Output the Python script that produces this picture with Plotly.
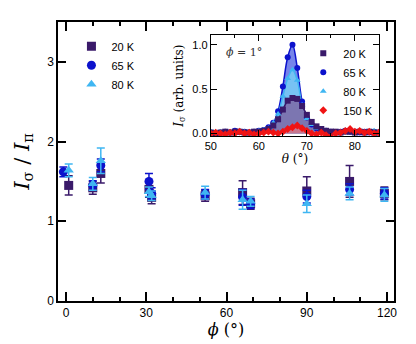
import plotly.graph_objects as go

# ── main panel: I_sigma / I_pi vs phi ─────────────────────────────────
PHI_20K = [1, 10, 13, 31, 32, 52, 66, 69, 90, 106, 119]
VAL_20K = [1.45, 1.42, 1.60, 1.40, 1.30, 1.32, 1.36, 1.22, 1.38, 1.50, 1.35]
ERR_20K = [0.12, 0.08, 0.12, 0.10, 0.08, 0.07, 0.15, 0.07, 0.18, 0.20, 0.08]

PHI_65K = [-1, 10, 13, 31, 32, 52, 66, 69, 90, 106, 119]
VAL_65K = [1.62, 1.45, 1.70, 1.50, 1.35, 1.34, 1.30, 1.22, 1.31, 1.40, 1.35]
ERR_65K = [0.06, 0.06, 0.08, 0.10, 0.07, 0.06, 0.10, 0.06, 0.08, 0.07, 0.07]

PHI_80K = [1, 10, 13, 31, 32, 52, 66, 69, 90, 106, 119]
VAL_80K = [1.64, 1.47, 1.76, 1.37, 1.32, 1.36, 1.27, 1.25, 1.22, 1.35, 1.33]
ERR_80K = [0.08, 0.08, 0.16, 0.06, 0.06, 0.08, 0.12, 0.06, 0.11, 0.08, 0.08]

# ── inset: theta scans at phi = 1 deg ─────────────────────────────────
THETA = list(range(50, 86))
SCAN_20K = [0.01, 0.00, 0.01, 0.02, 0.01, 0.02, 0.02, 0.01, 0.01, 0.02, 0.02, 0.03,
            0.05, 0.09, 0.16, 0.27, 0.37, 0.40, 0.39, 0.31, 0.21, 0.13, 0.08, 0.05,
            0.03, 0.02, 0.02, 0.01, 0.02, 0.02, 0.01, 0.02, 0.01, 0.02, 0.01, 0.01]
SCAN_65K = [0.01, 0.00, 0.01, 0.02, 0.01, 0.03, 0.02, 0.02, 0.01, 0.02, 0.03, 0.04,
            0.07, 0.12, 0.25, 0.53, 0.86, 1.00, 0.74, 0.36, 0.18, 0.10, 0.06, 0.04,
            0.03, 0.02, 0.01, 0.02, 0.03, 0.02, 0.02, 0.01, 0.02, 0.01, 0.02, 0.01]
SCAN_80K = [0.02, 0.01, 0.02, 0.02, 0.01, 0.02, 0.03, 0.02, 0.01, 0.02, 0.03, 0.04,
            0.06, 0.12, 0.22, 0.42, 0.62, 0.72, 0.60, 0.32, 0.17, 0.10, 0.06, 0.04,
            0.03, 0.02, 0.02, 0.02, 0.02, 0.03, 0.02, 0.02, 0.02, 0.02, 0.03, 0.02]
SCAN_150K = [0.00, 0.01, 0.00, -0.01, 0.01, 0.00, 0.02, 0.00, 0.01, -0.01, 0.00, 0.01,
             0.02, 0.01, 0.00, 0.02, 0.05, 0.07, 0.09, 0.06, 0.03, 0.00, -0.01, 0.01,
             -0.02, -0.04, 0.00, 0.01, 0.03, 0.05, 0.02, 0.03, 0.01, 0.02, 0.00, 0.01]
ERR_150K = 0.03

C20, C65, C80, C150 = "#3a1a6a", "#0c12cc", "#3fb6f2", "#f01414"
SANS = "Liberation Sans, Arial, sans-serif"
SERIF = "DejaVu Serif, Liberation Serif, serif"

fig = go.Figure()

for name, phi, val, err, col, sym in [
    ("20 K", PHI_20K, VAL_20K, ERR_20K, C20, "square"),
    ("65 K", PHI_65K, VAL_65K, ERR_65K, C65, "circle"),
    ("80 K", PHI_80K, VAL_80K, ERR_80K, C80, "triangle-up"),
]:
    fig.add_trace(go.Scatter(
        x=phi, y=val, mode="markers", name=name,
        marker=dict(symbol=sym, size=9, color=col),
        error_y=dict(type="data", array=err, color=col, thickness=1.5, width=4),
        legend="legend", xaxis="x", yaxis="y", legendrank=len(fig.data),
    ))

# inset: filled curves first (back to front), then markers on top
inset = [
    ("65 K", SCAN_65K, C65, "rgba(60,80,225,0.7)", "circle", 2),
    ("80 K", SCAN_80K, C80, "rgba(120,205,245,0.85)", "triangle-up", 3),
    ("20 K", SCAN_20K, C20, "rgba(125,105,165,0.85)", "square", 1),
    ("150 K", SCAN_150K, C150, "rgba(250,120,120,0.6)", "diamond", 4),
]
for name, scan, col, fillc, sym, rank in inset:
    fig.add_trace(go.Scatter(
        x=THETA, y=scan, mode="lines", showlegend=False, hoverinfo="skip",
        line=dict(color=col, width=1.5 if name != "150 K" else 1, shape="spline"),
        fill="tozeroy", fillcolor=fillc, xaxis="x2", yaxis="y2",
    ))
for name, scan, col, fillc, sym, rank in inset:
    err = dict(type="constant", value=ERR_150K, color=col, thickness=1, width=0) if name == "150 K" else None
    fig.add_trace(go.Scatter(
        x=THETA, y=scan, mode="markers", name=name,
        marker=dict(symbol=sym, size=6, color=col),
        error_y=err, xaxis="x2", yaxis="y2", legend="legend2", legendrank=rank,
    ))


def axis_style(lw, fs):
    return dict(showline=True, linecolor="black", linewidth=lw, mirror="allticks",
                ticks="inside", tickcolor="black", tickwidth=lw, zeroline=False, showgrid=False,
                tickfont=dict(family=SANS, size=fs, color="black"))


fig.update_layout(
    width=416, height=344,
    margin=dict(l=50, r=30, t=14, b=51),
    paper_bgcolor="white", plot_bgcolor="white",
    xaxis=dict(**axis_style(1.5, 12), range=[-3, 122.6], tickvals=[0, 30, 60, 90, 120],
               ticklen=9,
               minor=dict(dtick=10, tick0=0, ticks="inside", ticklen=4, tickcolor="black", tickwidth=1.5),
               title=dict(text="<i>ϕ</i> (°)", font=dict(family=SERIF, size=16, color="black"), standoff=4)),
    yaxis=dict(**axis_style(1.5, 12), range=[0, 3.5], tickvals=[0, 1, 2, 3], ticklen=8,
               title=dict(text="<i>I</i><sub>σ</sub> / <i>I</i><sub>π</sub>",
                          font=dict(family=SERIF, size=21, color="black"), standoff=12)),
    xaxis2=dict(**axis_style(1.2, 11), anchor="y2", domain=[0.455, 0.955], range=[50, 85],
                tickvals=[50, 60, 70, 80], ticklen=6,
                minor=dict(dtick=5, tick0=50, ticks="inside", ticklen=3, tickcolor="black"),
                title=dict(text="<i>θ</i> (°)", font=dict(family=SERIF, size=12, color="black"), standoff=2)),
    yaxis2=dict(**axis_style(1.2, 11), anchor="x2", domain=[0.591, 0.953], range=[-0.03, 1.11],
                tickvals=[0, 0.5, 1.0], tickformat=".1f", ticklen=6,
                title=dict(text="<i>I</i><sub>σ</sub> (arb. units)",
                           font=dict(family=SERIF, size=12, color="black"), standoff=6)),
    legend=dict(x=0.04, y=0.965, xanchor="left", yanchor="top", bgcolor="rgba(0,0,0,0)",
                font=dict(family=SANS, size=11, color="black"), itemwidth=30),
    legend2=dict(x=0.73, y=0.94, xanchor="left", yanchor="top", bgcolor="rgba(0,0,0,0)",
                 font=dict(family=SANS, size=11, color="black"), itemwidth=30),
    annotations=[dict(text="<i>ϕ</i> = 1°", xref="x2 domain", yref="y2 domain",
                      x=0.08, y=0.83, xanchor="left", yanchor="middle", showarrow=False,
                      font=dict(family=SERIF, size=11, color="#333"))],
)

fig.write_html("out.html")
